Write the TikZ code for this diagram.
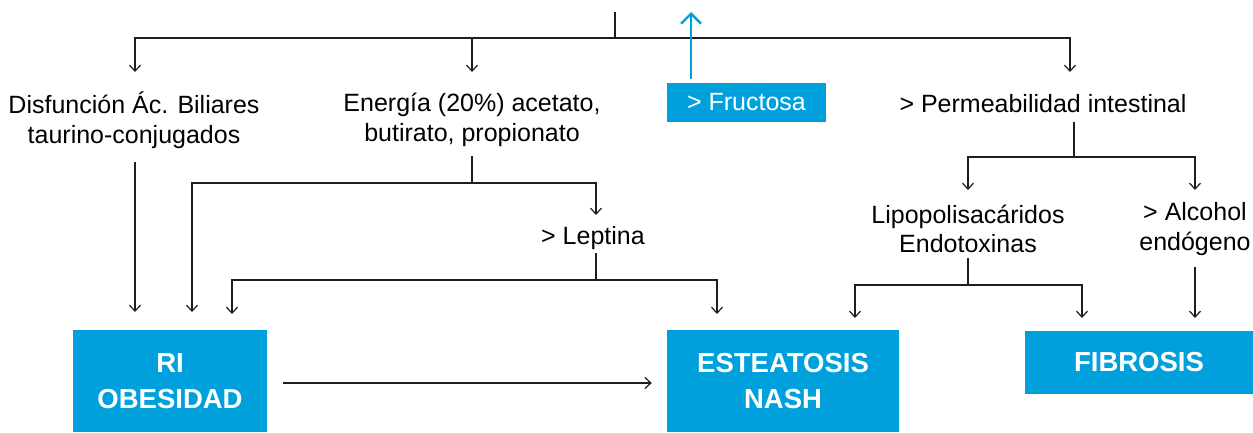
\documentclass[tikz,border=0pt]{standalone}
\usepackage{fontspec}
\setmainfont{Liberation Sans}
\usetikzlibrary{arrows.meta,calc}
\definecolor{myblue}{RGB}{0,160,220}
\definecolor{ln}{RGB}{30,30,30}
\begin{document}
\begin{tikzpicture}[x=1pt,y=-1pt,
  line/.style={draw=ln,line width=1.2pt},
  arr/.style={line,-{Straight Barb[length=6pt,width=11pt]}},
  barr/.style={draw=myblue,line width=2.4pt,-{Straight Barb[length=10pt,width=20pt]}},
  lbl/.style={font=\fontsize{25}{29.5}\selectfont,align=center,inner sep=0pt,text=black},
  bbox/.style={fill=myblue,text=white,font=\fontsize{27.5}{36}\selectfont\bfseries,align=center,inner sep=0pt},
]
\useasboundingbox (0,0) rectangle (1253,432);

% boxes
\node[bbox,minimum width=194pt,minimum height=102pt] (ri) at (170,381) {RI\\OBESIDAD};
\node[bbox,minimum width=232pt,minimum height=102pt] (est) at (783,381) {ESTEATOSIS\\NASH};
\node[bbox,minimum width=228pt,minimum height=63pt] (fib) at (1139,362.5) {FIBROSIS};
\node[fill=myblue,text=white,font=\fontsize{25}{29.5}\selectfont,inner sep=0pt,minimum width=159pt,minimum height=39pt] (fru) at (746.5,102.5) {> Fructosa};

% labels
\node[lbl] (dis) at (134,120) {Disfunción Ác. Biliares\\taurino-conjugados};
\node[lbl] (ene) at (472,120) {Energía (20\%) acetato,\\butirato, propionato};
\node[lbl] (per) at (1043,104) {> Permeabilidad intestinal};
\node[lbl] (lep) at (593,238) {> Leptina};
\node[lbl] (lip) at (968,229) {Lipopolisacáridos\\Endotoxinas};
\node[lbl] (alc) at (1195,229) {> Alcohol\\endógeno};

% top distribution
\coordinate (src) at (615,12);
\coordinate (hub) at (615,38);
\coordinate (t1) at (135,72);
\coordinate (t2) at (472,72);
\coordinate (t3) at (1070,72);
\draw[line] (src) -- (hub);
\draw[arr] (hub) -| (t1);
\draw[arr] (hub) -| (t2);
\draw[arr] (hub) -| (t3);

% fructosa up arrow
\coordinate (fa) at (691,79);
\coordinate (fb) at (691,12);
\draw[barr] (fa) -- (fb);

% disfuncion down
\coordinate (d1) at (135,162);
\coordinate (d2) at (135,312);
\draw[arr] (d1) -- (d2);

% energia
\coordinate (e0) at (472,156);
\coordinate (e1) at (472,183);
\coordinate (e2) at (192,312);
\coordinate (e3) at (596,215);
\draw[line] (e0) -- (e1);
\draw[arr] (e1) -| (e2);
\draw[arr] (e1) -| (e3);

% leptina
\coordinate (l0) at (596,253);
\coordinate (l1) at (596,280);
\coordinate (l2) at (232,314);
\coordinate (l3) at (717,314);
\draw[line] (l0) -- (l1);
\draw[arr] (l1) -| (l2);
\draw[arr] (l1) -| (l3);

% permeabilidad
\coordinate (p0) at (1074,122);
\coordinate (p1) at (1074,157);
\coordinate (p2) at (968,190);
\coordinate (p3) at (1195,190);
\draw[line] (p0) -- (p1);
\draw[arr] (p1) -| (p2);
\draw[arr] (p1) -| (p3);

% lipopolisacaridos
\coordinate (q0) at (968,258);
\coordinate (q1) at (968,285);
\coordinate (q2) at (855,318);
\coordinate (q3) at (1082,318);
\draw[line] (q0) -- (q1);
\draw[arr] (q1) -| (q2);
\draw[arr] (q1) -| (q3);

% alcohol
\coordinate (a0) at (1195,267);
\coordinate (a1) at (1195,318);
\draw[arr] (a0) -- (a1);

% RI -> esteatosis
\draw[arr,shorten <=16pt,shorten >=15pt] (ri.east |- 0,383) -- (est.west |- 0,383);
\end{tikzpicture}
\end{document}
